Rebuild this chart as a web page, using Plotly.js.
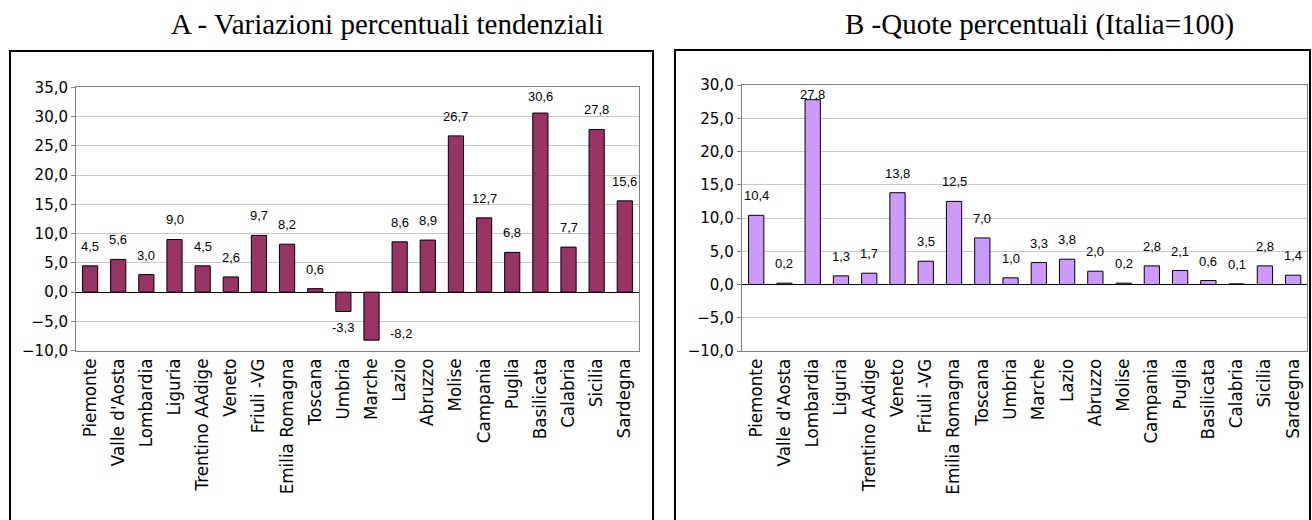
<!DOCTYPE html>
<html>
<head>
<meta charset="utf-8">
<script src="https://cdn.plot.ly/plotly-3.0.1.min.js"></script>
<style>html,body{margin:0;padding:0;background:#fff;}#chart{width:1312px;height:520px;}</style>
</head>
<body>
<div id="chart"></div>
<script>
// ---- data ----
const categories = ['Piemonte', "Valle d'Aosta", 'Lombardia', 'Liguria', 'Trentino AAdige', 'Veneto', 'Friuli -VG', 'Emilia Romagna', 'Toscana', 'Umbria', 'Marche', 'Lazio', 'Abruzzo', 'Molise', 'Campania', 'Puglia', 'Basilicata', 'Calabria', 'Sicilia', 'Sardegna'];
const variazioni = [4.5, 5.6, 3.0, 9.0, 4.5, 2.6, 9.7, 8.2, 0.6, -3.3, -8.2, 8.6, 8.9, 26.7, 12.7, 6.8, 30.6, 7.7, 27.8, 15.6];
const quote = [10.4, 0.2, 27.8, 1.3, 1.7, 13.8, 3.5, 12.5, 7.0, 1.0, 3.3, 3.8, 2.0, 0.2, 2.8, 2.1, 0.6, 0.1, 2.8, 1.4];
const titleA = 'A - Variazioni percentuali tendenziali';
const titleB = 'B -Quote percentuali (Italia=100)';

// ---- layout geometry ----
const W = 1312, H = 520;
const boxA = {l: 76, r: 639.3, t: 87.3, b: 350.7, ymin: -10, ymax: 35};
const boxB = {l: 741.7, r: 1307.3, t: 85, b: 351, ymin: -10, ymax: 30};

function fmt(v) { return v.toFixed(1).replace('.', ','); }

function labels(vals, xref, yref, box) {
  const upp = (box.ymax - box.ymin) / (box.b - box.t);
  return vals.map((v, i) => {
    const a = {x: categories[i], y: v, xref: xref, yref: yref, text: fmt(v), showarrow: false,
      font: {family: 'Liberation Sans, Arial, sans-serif', size: 13, color: '#000'}};
    if (v >= 0) {
      if (v + 26 * upp > box.ymax) { a.y = box.ymax; a.yanchor = 'top'; a.yshift = 0; }
      else { a.yanchor = 'bottom'; a.yshift = 10; }
    } else {
      if (v - 23 * upp < box.ymin) { a.yanchor = 'middle'; a.xanchor = 'left'; a.xshift = 16; a.yshift = 7; }
      else { a.yanchor = 'top'; a.yshift = -7; }
    }
    return a;
  });
}

const traces = [
  {type: 'bar', x: categories, y: variazioni, xaxis: 'x', yaxis: 'y',
   marker: {color: '#993366', line: {color: '#000', width: 1}}, hoverinfo: 'none'},
  {type: 'bar', x: categories, y: quote, xaxis: 'x2', yaxis: 'y2',
   marker: {color: '#CC99FF', line: {color: '#000', width: 1}}, hoverinfo: 'none'}
];

function xAxis(box, anchor) {
  return {domain: [box.l / W, box.r / W], anchor: anchor, type: 'category',
    showline: true, mirror: true, linecolor: '#808080', linewidth: 1,
    ticks: '', showgrid: false, tickangle: -90, automargin: false,
    tickfont: {family: 'DejaVu Sans, sans-serif', size: 16.8, color: '#000'}};
}
function yAxis(box, anchor) {
  return {domain: [(H - box.b) / H, (H - box.t) / H], anchor: anchor,
    range: [box.ymin, box.ymax], dtick: 5, tick0: 0, tickformat: '.1f',
    showline: true, mirror: true, linecolor: '#808080', linewidth: 1,
    ticks: 'outside', ticklen: 4, tickcolor: '#808080',
    showgrid: true, gridcolor: '#c8c8c8', gridwidth: 1,
    zeroline: true, zerolinecolor: '#000', zerolinewidth: 1, automargin: false,
    tickfont: {family: 'DejaVu Sans, sans-serif', size: 15, color: '#000'}};
}

const annotations = []
  .concat(labels(variazioni, 'x', 'y', boxA))
  .concat(labels(quote, 'x2', 'y2', boxB))
  .concat([
    {xref: 'paper', yref: 'paper', x: 387.5 / W, y: 1 - 24 / H, xanchor: 'center', yanchor: 'middle',
     text: titleA, showarrow: false, font: {family: 'Liberation Serif, Times New Roman, serif', size: 29, color: '#000'}},
    {xref: 'paper', yref: 'paper', x: 1039 / W, y: 1 - 24 / H, xanchor: 'center', yanchor: 'middle',
     text: titleB, showarrow: false, font: {family: 'Liberation Serif, Times New Roman, serif', size: 29, color: '#000'}}
  ]);

const shapes = [
  {type: 'rect', xref: 'paper', yref: 'paper', x0: 10 / W, x1: 653 / W, y0: -0.2, y1: 1 - 51 / H,
   line: {color: '#000', width: 2}, fillcolor: 'rgba(0,0,0,0)', layer: 'below'},
  {type: 'rect', xref: 'paper', yref: 'paper', x0: 675 / W, x1: 1310 / W, y0: -0.2, y1: 1 - 50 / H,
   line: {color: '#000', width: 2}, fillcolor: 'rgba(0,0,0,0)', layer: 'below'}
];

const layout = {
  width: W, height: H, margin: {l: 0, r: 0, t: 0, b: 0},
  paper_bgcolor: '#fff', plot_bgcolor: '#fff', showlegend: false,
  separators: ',.', bargap: 0.46,
  xaxis: xAxis(boxA, 'y'), yaxis: yAxis(boxA, 'x'),
  xaxis2: xAxis(boxB, 'y2'), yaxis2: yAxis(boxB, 'x2'),
  annotations: annotations, shapes: shapes
};

Plotly.newPlot('chart', traces, layout, {staticPlot: true, displayModeBar: false});
</script>
</body>
</html>
